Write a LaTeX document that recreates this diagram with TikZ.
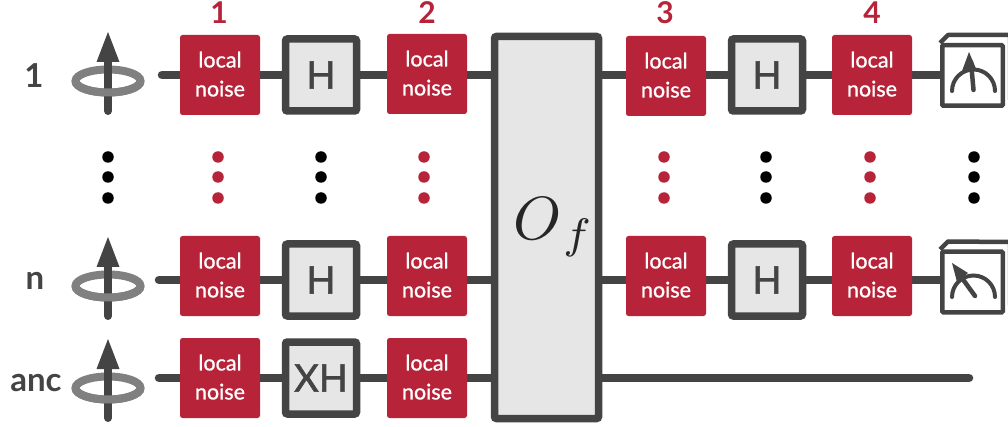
\documentclass[tikz,border=0pt]{standalone}
\usepackage{fontspec}
\setmainfont{Lato}
\newfontfamily\medfont[FakeBold=1]{Lato}
\newfontfamily\gatefont[FakeBold=1.6]{Lato}
\usetikzlibrary{backgrounds}

\definecolor{noisered}{HTML}{B72338}
\definecolor{wiregray}{HTML}{444444}
\definecolor{ringgray}{HTML}{808080}
\definecolor{gatefill}{HTML}{E6E6E6}

\tikzset{
  wire/.style={line width=8.5pt, draw=wiregray, line cap=round},
  noisebox/.style={fill=noisered, rounded corners=2.5pt, minimum width=80pt, minimum height=80pt,
    inner sep=0pt, text=white, align=center, text depth=2pt, font=\medfont\fontsize{21.5}{29}\selectfont},
  gatebox/.style={draw=wiregray, fill=gatefill, line width=7.5pt, rounded corners=2pt, minimum width=71pt,
    minimum height=72pt, inner sep=0pt, text=wiregray, font=\gatefont\fontsize{38}{38}\selectfont},
  meterbox/.style={draw=wiregray, fill=white, line width=4.5pt, rounded corners=1pt, minimum width=60.5pt,
    minimum height=60.5pt, inner sep=0pt},
  rowlabel/.style={text=wiregray, font=\fontsize{33}{33}\selectfont\bfseries},
  steplabel/.style={text=noisered, font=\fontsize{30}{30}\selectfont\bfseries},
  blackdot/.style={circle, fill=black, minimum size=11.5pt, inner sep=0pt},
  reddot/.style={circle, fill=noisered, minimum size=11.5pt, inner sep=0pt},
  spin/.pic={
    \draw[ringgray, line width=8pt] (0,-6) ellipse [x radius=32.5, y radius=11.5];
    \draw[wiregray, line width=8pt, line cap=round] (0,-36) -- (0,15);
    \fill[wiregray] (0,43) -- (11.5,13) -- (-11.5,13) -- cycle;
    \draw[ringgray, line width=8pt] (-32.5,-6) arc [start angle=180, end angle=360, x radius=32.5, y radius=11.5];
  }
}

\begin{document}
\begin{tikzpicture}[x=1pt, y=1pt]
\useasboundingbox (0,0) rectangle (1008,-427);

% Spins
\pic at (108,-75) {spin};
\pic at (108,-280) {spin};
\pic at (108,-382) {spin};

% Row labels
\node[rowlabel] (labelA) at (34,-76) {1};
\node[rowlabel] (labelB) at (35,-281) {n};
\node[rowlabel] (labelC) at (36,-383) {anc};

% Step numbers
\node[steplabel] (stepone) at (219,-13) {1};
\node[steplabel] (steptwo) at (427,-13) {2};
\node[steplabel] (stepthree) at (665,-13) {3};
\node[steplabel] (stepfour) at (872,-13) {4};

% Free wire ends
\coordinate (startA) at (162,-75);
\coordinate (startB) at (159,-280);
\coordinate (startC) at (159,-378);
\coordinate (endC) at (969,-378);

% Noise, first block
\node[noisebox] (noiseA1) at (220,-75) {local\\noise};
\node[noisebox] (noiseA2) at (427,-74) {local\\noise};
\node[noisebox] (noiseB1) at (220,-276) {local\\noise};
\node[noisebox] (noiseB2) at (427,-276) {local\\noise};
\node[noisebox] (noiseC1) at (220,-378) {local\\noise};
\node[noisebox] (noiseC2) at (427,-378) {local\\noise};

% Noise, second block
\node[noisebox] (noiseA3) at (666,-76) {local\\noise};
\node[noisebox] (noiseA4) at (872,-75) {local\\noise};
\node[noisebox] (noiseB3) at (666,-276) {local\\noise};
\node[noisebox] (noiseB4) at (872,-276) {local\\noise};

% Gates
\node[gatebox] (hA1) at (321,-75) {H};
\node[gatebox] (hB1) at (321,-280) {H};
\node[gatebox] (xh) at (321,-378) {XH};
\node[gatebox] (hA2) at (767,-75) {H};
\node[gatebox] (hB2) at (767,-280) {H};

% Oracle
\node[gatebox, minimum width=104pt, minimum height=382pt] (oracle) at (546.5,-227.5) {};
\node[text=black!85, scale=6.1] (oraclelabel) at (554,-227) {$O_{\mkern1mu f}$};

% Measurements
\node[meterbox] (meterA) at (972.5,-75.5) {};
\node[meterbox] (meterB) at (972.5,-282) {};
\draw[wiregray, line width=4.5pt, line join=round] (meterA.north west) -- ++(8,8) -- (1010,-35) -- (1010,-100);
\draw[wiregray, line width=4.5pt, line join=round] (meterB.north west) -- ++(8,8) -- (1010,-242) -- (1010,-305);
\draw[wiregray, line width=4pt, line cap=round] (952,-91) arc [start angle=180, end angle=0, radius=21.5];
\draw[wiregray, line width=4.5pt, line cap=round] (973.5,-90) -- (971,-62);
\fill[wiregray] (969,-52) -- (977,-71) -- (962,-71) -- cycle;
\draw[wiregray, line width=4pt, line cap=round] (952,-297) arc [start angle=180, end angle=0, radius=21.5];
\draw[wiregray, line width=4.5pt, line cap=round] (975,-296) -- (959,-274);
\fill[wiregray] (952,-263) -- (968,-273) -- (957,-282) -- cycle;

% Wires
\begin{scope}[on background layer]
\draw[wire] (startA) -- (startA -| noiseA1) -- (startA -| hA1) -- (startA -| noiseA2) -- (startA -| oracle)
  -- (startA -| noiseA3) -- (startA -| hA2) -- (startA -| noiseA4) -- (startA -| meterA);
\draw[wire] (startB) -- (startB -| noiseB1) -- (startB -| hB1) -- (startB -| noiseB2) -- (startB -| oracle)
  -- (startB -| noiseB3) -- (startB -| hB2) -- (startB -| noiseB4) -- (startB -| meterB);
\draw[wire] (startC) -- (noiseC1) -- (xh) -- (noiseC2) -- (startC -| oracle) -- (endC);
\end{scope}

% Dots
\node[blackdot] (dotA1) at (108,-157) {}; \node[blackdot] (dotA2) at (108,-177) {}; \node[blackdot] (dotA3) at (108,-198) {};
\node[reddot] (dotB1) at (218,-157) {}; \node[reddot] (dotB2) at (218,-177) {}; \node[reddot] (dotB3) at (218,-198) {};
\node[blackdot] (dotC1) at (321,-157) {}; \node[blackdot] (dotC2) at (321,-177) {}; \node[blackdot] (dotC3) at (321,-198) {};
\node[reddot] (dotD1) at (424,-157) {}; \node[reddot] (dotD2) at (424,-177) {}; \node[reddot] (dotD3) at (424,-198) {};
\node[reddot] (dotE1) at (664,-157) {}; \node[reddot] (dotE2) at (664,-177) {}; \node[reddot] (dotE3) at (664,-198) {};
\node[blackdot] (dotF1) at (766,-157) {}; \node[blackdot] (dotF2) at (766,-177) {}; \node[blackdot] (dotF3) at (766,-198) {};
\node[reddot] (dotG1) at (870,-157) {}; \node[reddot] (dotG2) at (870,-177) {}; \node[reddot] (dotG3) at (870,-198) {};
\node[blackdot] (dotH1) at (974,-157) {}; \node[blackdot] (dotH2) at (974,-177) {}; \node[blackdot] (dotH3) at (974,-198) {};

\end{tikzpicture}
\end{document}
